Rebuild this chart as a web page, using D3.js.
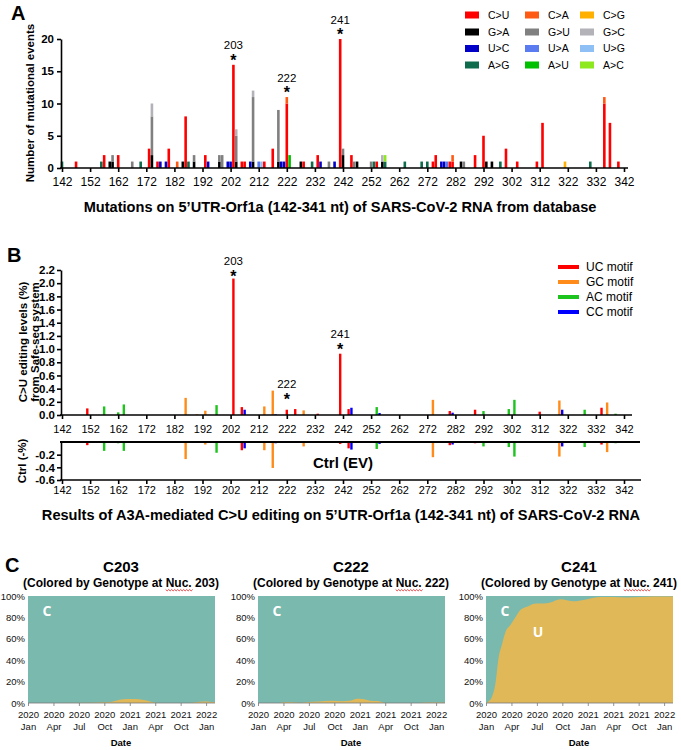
<!DOCTYPE html>
<html lang="en">
<head>
<meta charset="UTF-8">
<title>5'UTR-Orf1a C>U mutations</title>
<script src="https://d3js.org/d3.v7.min.js"></script>
<style>
  body { margin: 0; background: #fff; }
  svg { display: block; font-family: Arial, "Liberation Sans", sans-serif; }
  .axis line { stroke: #000; stroke-width: 1.6; }
  .axis path { stroke: #000; stroke-width: 1.6; }
  .axis text { font-size: 11px; fill: #000; font-family: Arial, "Liberation Sans", sans-serif; }
  .axis.big text { font-size: 12px; }
  .boldtick text { font-weight: bold; font-size: 11.5px; }
  .cax line, .cax path { stroke: #777; stroke-width: 0.8; }
  .cax text { font-size: 9.5px; fill: #111; font-family: Arial, "Liberation Sans", sans-serif; }
</style>
</head>
<body>
<svg id="fig" width="681" height="750"></svg>
<script>
// ---------- panel A: mutational events per nucleotide ----------
const mutTypes  = ["C>U","C>A","C>G","G>A","G>U","G>C","U>C","U>A","U>G","A>G","A>U","A>C"];
const mutColors = ["#ff0000","#ff5a14","#ffb000","#000000","#808080","#b2b2b8",
                   "#0000c8","#5a7cf0","#8fc0f5","#0e6b4c","#00c000","#8ee81e"];
// [nt, events]
const cuEvents = [[147,1],[157,2],[162,2],[173,3],[176,1],[180,3],[186,8],[193,2],[203,16],[206,1],[207,1],
                  [214,1],[217,3],[222,10],[228,1],[233,2],[241,20],[245,2],[254,1],[274,1],[275,2],[280,1],
                  [281,1],[289,2],[292,5],[300,3],[304,1],[311,1],[313,7],[335,10],[337,7],[340,1]];
const caEvents = [[183,1],[222,1],[281,1],[335,1]];
const cgEvents = [[321,1]];
const gaEvents = [[159,1],[160,1],[174,2],[185,1],[189,1],[198,1],[204,1],[210,1],[219,1],[227,1],[242,2],
                  [247,1],[256,1],[284,1],[293,1],[295,1]];
const guEvents = [[160,1],[167,1],[174,6],[189,1],[198,1],[199,2],[204,4],[210,10],[219,8],[237,1],[242,1],
                  [246,1],[252,1],[285,1]];
const gcEvents = [[174,2],[204,1],[210,1],[256,1]];
const ucEvents = [[177,1],[179,1],[194,1],[201,1],[202,1],[209,1],[220,1],[221,1],[234,1],[239,1],[277,1],[278,1]];
const uaEvents = [[212,1],[279,1]];
const ugEvents = [[213,1]];
const agEvents = [[142,1],[156,1],[170,1],[187,1],[231,1],[253,1],[257,1],[264,1],[270,1],[272,1],[298,1],[330,1]];
const auEvents = [[223,2]];
const acEvents = [[257,1]];

// ---------- panel B: Safe-seq C>U editing, [nt, A3A level %, ctrl level %] ----------
const motifNames  = ["UC motif","GC motif","AC motif","CC motif"];
const motifColors = ["#ff0000","#ff8c1a","#1ec41e","#0000ff"];
const ucMotif = [[151,0.10,-0.05],[203,2.07,0],[206,0.12,-0.13],[222,0.08,-0.01],[225,0.09,-0.01],[233,0.02,0],
                 [241,0.93,-0.03],[244,0.09,-0.10],[280,0.06,-0.05],[289,0.08,-0.02],[312,0.05,-0.01],[334,0.11,-0.04]];
const gcMotif = [[186,0.26,-0.27],[190,0.01,0],[193,0.065,-0.04],[214,0.13,-0.13],[217,0.37,-0.41],[228,0.07,-0.07],
                 [274,0.23,-0.24],[319,0.22,-0.23],[336,0.19,-0.16]];
const acMotif = [[157,0.13,-0.14],[162,0.04,-0.02],[164,0.16,-0.14],[197,0.15,-0.17],[254,0.12,-0.11],[292,0.06,-0.07],
                 [301,0.09,-0.08],[303,0.23,-0.23],[328,0.08,-0.08],[339,0.02,-0.02]];
const ccMotif = [[207,0.08,-0.10],[218,0.01,-0.02],[245,0.11,-0.12],[255,0.03,-0.03],[281,0.035,-0.04],[320,0.08,-0.07]];

const starSites  = [203, 222, 241];
const starLevelB = [2.16, 0.29, 1.05];

// ---------- panel C: genotype frequency over time ----------
const dateYears  = ["2020","2020","2020","2020","2021","2021","2021","2022"];
const dateMonths = ["Jan","Apr","Jul","Oct","Jan","Apr","Oct","Jan"];
// [axis step (0 = 2020 Jan ... 7 = 2022 Jan), % U]
const c203U = [[0,0],[2.5,0.3],[3.0,0.6],[3.3,1.2],[3.6,3.0],[3.9,3.8],[4.2,3.8],[4.5,3.0],[4.8,1.5],[5.0,0.3],
               [5.3,0],[6.3,0],[6.6,0.7],[6.9,1.3],[7.2,1.0],[7.35,0.8]];
const c222U = [[0,0],[0.8,0],[1.0,0.8],[1.3,0.8],[1.6,0.2],[1.9,0.8],[2.4,1.5],[2.9,2.0],[3.3,1.6],[3.6,2.0],
               [3.9,4.0],[4.1,3.8],[4.4,2.2],[4.7,1.8],[4.95,0.3],[5.2,0],[6.3,0],[6.6,0.5],[7.0,0.5],[7.35,0.2]];
const c241U = [[0,0],[0.1,1.5],[0.24,6],[0.37,18],[0.5,43],[0.63,55],[0.76,66],[0.96,73],[1.15,80],[1.35,87],
               [1.61,90],[1.98,93],[2.26,93],[2.53,94],[2.92,97],[3.44,95],[3.97,97],[4.49,99],[5.0,99],
               [5.54,98.5],[6.06,99],[6.59,99.5],[7.35,99.5]];

const svg = d3.select("#fig");
const bold = "bold";

function letter(x, y, t) {
  svg.append("text").attr("x", x).attr("y", y).attr("font-size", 20).attr("font-weight", bold).text(t);
}

const xNt = d3.scaleLinear().domain([142, 342]).range([62, 624]);
const ntTicks = d3.range(142, 343, 10);

function ntAxis(y, lineEnd, pad, cls) {
  const g = svg.append("g").attr("class", "axis " + (cls || "")).attr("transform", `translate(0,${y})`)
    .call(d3.axisBottom(xNt).tickValues(ntTicks).tickSize(4).tickSizeOuter(0).tickPadding(pad));
  g.select(".domain").remove();
  g.append("line").attr("x1", 60).attr("x2", lineEnd);
  return g;
}

// ================= Panel A =================
letter(11, 20, "A");
const yA = d3.scaleLinear().domain([0, 20]).range([168, 39]);

const mutEvents = {"C>U": cuEvents, "C>A": caEvents, "C>G": cgEvents, "G>A": gaEvents, "G>U": guEvents,
  "G>C": gcEvents, "U>C": ucEvents, "U>A": uaEvents, "U>G": ugEvents, "A>G": agEvents, "A>U": auEvents, "A>C": acEvents};
const positions = Array.from(new Set(Object.values(mutEvents).flat().map(d => d[0]))).sort((a, b) => a - b);
const tableA = positions.map(p => {
  const row = {nt: p};
  mutTypes.forEach(k => {
    const f = mutEvents[k].find(d => d[0] === p);
    row[k] = f ? f[1] : 0;
  });
  return row;
});
const stackA = d3.stack().keys(mutTypes)(tableA);
const colorA = d3.scaleOrdinal().domain(mutTypes).range(mutColors);

svg.append("g").selectAll("g")
  .data(stackA)
  .join("g")
  .attr("fill", d => colorA(d.key))
  .selectAll("rect")
  .data(d => d.filter(s => s[1] > s[0]))
  .join("rect")
  .attr("x", d => xNt(d.data.nt) - 1.3)
  .attr("width", 2.6)
  .attr("y", d => yA(d[1]))
  .attr("height", d => yA(d[0]) - yA(d[1]));

svg.append("g").attr("class", "axis boldtick").attr("transform", "translate(61,0)")
  .call(d3.axisLeft(yA).tickValues([0, 5, 10, 15, 20]).tickSize(4).tickSizeOuter(0).tickPadding(3));
ntAxis(168, 628, 5, "big");

svg.append("text").attr("transform", "translate(30,103) rotate(-90)").attr("text-anchor", "middle")
  .attr("dominant-baseline", "central").attr("font-size", 11.5).attr("font-weight", bold)
  .text("Number of mutational events");
svg.append("text").attr("x", 340).attr("y", 212).attr("text-anchor", "middle")
  .attr("font-size", 14.6).attr("font-weight", bold)
  .text("Mutations on 5\u2019UTR-Orf1a (142-341 nt) of SARS-CoV-2 RNA from database");

// star annotations A
starSites.forEach(nt => {
  const row = tableA.find(r => r.nt === nt);
  const top = yA(d3.sum(mutTypes, k => row[k]));
  svg.append("text").attr("x", xNt(nt)).attr("y", top - 8 + 9).attr("text-anchor", "middle")
    .attr("font-size", 16).attr("font-weight", bold).text("*");
  svg.append("text").attr("x", xNt(nt)).attr("y", top - 15.5).attr("text-anchor", "middle")
    .attr("font-size", 11.5).text(nt);
});

// legend A
const legA = svg.append("g").selectAll("g").data(mutTypes).join("g")
  .attr("transform", (d, i) => `translate(${[465, 525, 580][i % 3]},${[15, 32, 48.5, 65][Math.floor(i / 3)]})`);
legA.append("rect").attr("x", 0).attr("y", -3.5).attr("width", 14).attr("height", 7).attr("fill", d => colorA(d));
legA.append("text").attr("x", 23).attr("dy", "0.35em").attr("font-size", 10.5).text(d => d);

// ================= Panel B =================
letter(7, 262, "B");
const yB = d3.scaleLinear().domain([0, 2.2]).range([415, 270]);
const yCtrl = d3.scaleLinear().domain([-0.6, 0]).range([480, 442]);
const motifs = [ucMotif, gcMotif, acMotif, ccMotif];

motifs.forEach((rows, i) => {
  const g = svg.append("g").attr("fill", motifColors[i]);
  g.selectAll("rect.up").data(rows).join("rect").attr("class", "up")
    .attr("x", d => xNt(d[0]) - 1.2).attr("width", 2.4)
    .attr("y", d => yB(d[1])).attr("height", d => yB(0) - yB(d[1]));
  g.selectAll("rect.dn").data(rows.filter(d => d[2] < 0)).join("rect").attr("class", "dn")
    .attr("x", d => xNt(d[0]) - 1.2).attr("width", 2.4)
    .attr("y", yCtrl(0)).attr("height", d => yCtrl(d[2]) - yCtrl(0));
});

svg.append("g").attr("class", "axis boldtick").attr("transform", "translate(61,0)")
  .call(d3.axisLeft(yB).tickValues(d3.range(12).map(i => i * 0.2)).tickFormat(d => d.toFixed(1))
    .tickSize(4).tickSizeOuter(0).tickPadding(2));
ntAxis(415, 632, 6.5);

svg.append("g").attr("class", "axis boldtick").attr("transform", "translate(61,0)")
  .call(d3.axisLeft(yCtrl).tickValues([-0.2, -0.4, -0.6]).tickFormat(d => d.toFixed(1))
    .tickSize(4).tickSizeOuter(0).tickPadding(2));
svg.append("line").attr("x1", 60).attr("x2", 640).attr("y1", yCtrl(0)).attr("y2", yCtrl(0))
  .attr("stroke", "#000").attr("stroke-width", 2);
ntAxis(480, 641, 2);

svg.append("text").attr("x", 343).attr("y", 468).attr("text-anchor", "middle")
  .attr("font-size", 15).attr("font-weight", bold).text("Ctrl (EV)");

starSites.forEach((nt, i) => {
  const c = yB(starLevelB[i]);
  svg.append("text").attr("x", xNt(nt)).attr("y", c + 9).attr("text-anchor", "middle")
    .attr("font-size", 16).attr("font-weight", bold).text("*");
  svg.append("text").attr("x", xNt(nt)).attr("y", c - 8).attr("text-anchor", "middle")
    .attr("font-size", 11.5).text(nt);
});

svg.append("text").attr("transform", "translate(23,342) rotate(-90)").attr("text-anchor", "middle")
  .attr("dominant-baseline", "central").attr("font-size", 11.5).attr("font-weight", bold)
  .text("C>U editing levels (%)");
svg.append("text").attr("transform", "translate(35,342) rotate(-90)").attr("text-anchor", "middle")
  .attr("dominant-baseline", "central").attr("font-size", 11.5).attr("font-weight", bold)
  .text("from Safe-seq system");
svg.append("text").attr("transform", "translate(22,461) rotate(-90)").attr("text-anchor", "middle")
  .attr("dominant-baseline", "central").attr("font-size", 11.5).attr("font-weight", bold)
  .text("Ctrl (-%)");

// legend B
const legB = svg.append("g").selectAll("g").data(motifNames).join("g")
  .attr("transform", (d, i) => `translate(558,${267 + i * 15})`);
legB.append("line").attr("x1", 0).attr("x2", 21).attr("stroke", (d, i) => motifColors[i]).attr("stroke-width", 4);
legB.append("text").attr("x", 28).attr("dy", "0.35em").attr("font-size", 12).text(d => d);

svg.append("text").attr("x", 341).attr("y", 520).attr("text-anchor", "middle")
  .attr("font-size", 14.6).attr("font-weight", bold)
  .text("Results of A3A-mediated C>U editing on 5\u2019UTR-Orf1a (142-341 nt) of SARS-CoV-2 RNA");

// ================= Panel C =================
letter(5, 572, "C");
const yC = d3.scaleLinear().domain([0, 100]).range([703, 596]);

function genotypeChart(left, site, series, showU) {
  const x = d3.scaleLinear().domain([0, 7.35]).range([left, left + 187]);
  const cx = left + 93;
  svg.append("rect").attr("x", x(0)).attr("y", yC(100)).attr("width", x(7.35) - x(0))
    .attr("height", yC(0) - yC(100)).attr("fill", "#7ab9ae");
  svg.append("path").datum(series)
    .attr("fill", "#e1b858")
    .attr("d", d3.area().x(d => x(d[0])).y0(yC(0)).y1(d => yC(d[1])).curve(d3.curveMonotoneX));

  const ay = svg.append("g").attr("class", "cax").attr("transform", `translate(${left},0)`)
    .call(d3.axisLeft(yC).tickValues([0, 20, 40, 60, 80, 100]).tickFormat(d => d + "%").tickSize(0).tickPadding(3));
  ay.select(".domain").remove();

  const ax = svg.append("g").attr("class", "cax").attr("transform", `translate(0,${yC(0)})`)
    .call(d3.axisBottom(x).tickValues(d3.range(8)).tickSize(3).tickSizeOuter(0).tickFormat(""));
  ax.select(".domain").attr("d", `M${x(0)},0H${x(7.35)}`);
  ax.selectAll(".tick").append("text").attr("y", 15).attr("fill", "#111").attr("text-anchor", "middle")
    .text(d => dateYears[d]);
  ax.selectAll(".tick").append("text").attr("y", 27).attr("fill", "#111").attr("text-anchor", "middle")
    .text(d => dateMonths[d]);

  svg.append("text").attr("x", cx).attr("y", 746).attr("text-anchor", "middle")
    .attr("font-size", 9.5).attr("font-weight", bold).text("Date");

  svg.append("text").attr("x", cx).attr("y", 572).attr("text-anchor", "middle")
    .attr("font-size", 15).attr("font-weight", bold).text("C" + site);
  const sub = svg.append("text").attr("x", cx).attr("y", 587).attr("text-anchor", "middle")
    .attr("font-size", 12).attr("font-weight", bold).text(`(Colored by Genotype at Nuc. ${site})`);
  // spell-check squiggle under "Nuc."
  const node = sub.node();
  const str = node.textContent;
  const i0 = str.indexOf("Nuc.");
  const total = node.getComputedTextLength();
  const sx = cx - total / 2 + node.getSubStringLength(0, i0);
  const sw = node.getSubStringLength(i0, 4);
  let p = `M${sx},${589.5}`;
  for (let k = 0, xx = sx; xx < sx + sw; k++) { xx += 1.5; p += `L${xx},${589.5 + (k % 2 ? 0 : 1.4)}`; }
  svg.append("path").attr("d", p).attr("fill", "none").attr("stroke", "#e02020").attr("stroke-width", 0.8);

  svg.append("text").attr("x", left + 19).attr("y", 616).attr("text-anchor", "middle")
    .attr("font-family", "'Open Sans', sans-serif").attr("font-size", 14).attr("font-weight", bold)
    .attr("fill", "#fff").text("C");
  if (showU) {
    svg.append("text").attr("x", left + 52).attr("y", 637).attr("text-anchor", "middle")
      .attr("font-family", "'Open Sans', sans-serif").attr("font-size", 14).attr("font-weight", bold)
      .attr("fill", "#fff").text("U");
  }
}

genotypeChart(28, 203, c203U, false);
genotypeChart(258, 222, c222U, false);
genotypeChart(486, 241, c241U, true);
</script>
</body>
</html>
